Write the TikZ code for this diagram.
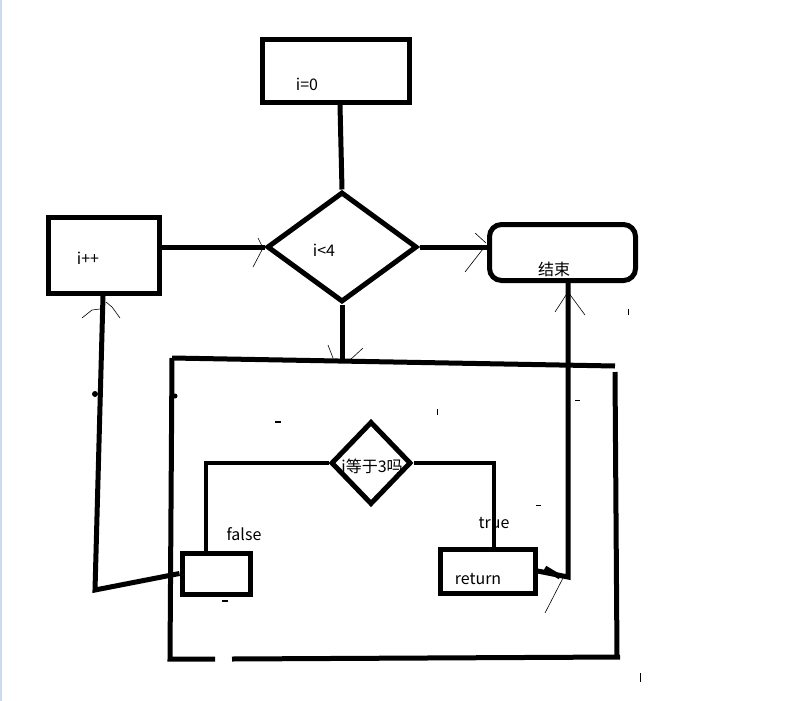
\documentclass[tikz,border=0pt]{standalone}
\usepackage{fontspec}
\usetikzlibrary{shapes.geometric}
\newfontfamily\cjk{Noto Sans CJK SC}
\definecolor{edge}{RGB}{205,218,236}

\begin{document}
\begin{tikzpicture}[x=1pt,y=-1pt,
  box/.style={draw,line width=5pt,inner sep=0pt},
  cond/.style={draw,line width=5pt,diamond,inner sep=0pt},
  wire/.style={line width=5pt},
  thinwire/.style={line width=4pt},
  tip/.style={line width=0.6pt},
  txt/.style={font=\cjk\fontsize{16}{18}\selectfont,inner sep=0pt}]
\useasboundingbox (0,0) rectangle (800,701);
\draw[edge,line width=2pt] (1,0) -- (1,701);
% outer loop
\node[box,minimum width=147,minimum height=63] (init) at (336,71) {};
\node[txt] (initlbl) at (307,84) {i=0};
\node[cond,minimum width=150,minimum height=110] (test) at (342,247) {};
\node[txt] (testlbl) at (324,250) {i<4};
\node[box,minimum width=111,minimum height=76] (incr) at (104,255.5) {};
\node[txt] (incrlbl) at (88,258) {i++};
\node[box,rounded corners=12pt,minimum width=146,minimum height=56] (stop) at (562.5,252.5) {};
\node[txt] (stoplbl) at (554,269) {结束};
\draw[wire] ([xshift=4pt]init.south) -- (test.north);
\draw[wire] (test.west -| incr.east) -- (test.west);
\draw[wire] (test.east) -- (test.east -| stop.west);
\coordinate (bodytop) at (342,362);
\draw[wire] (test.south) -- (bodytop);
% loop body
\draw[wire] (172,358) -- (615,366);
\draw[wire] (615,372) -- (617,657);
\draw[wire] (620,657) -- (232,659);
\draw[wire] (215,659) -- (170,659) -- (172,358);
\node[cond,minimum width=80,minimum height=83] (check) at (371,463) {};
\node[txt] (checklbl) at (372,466) {i等于3吗};
\node[box,minimum width=68,minimum height=41] (skip) at (216,573.5) {};
\node[box,minimum width=95,minimum height=44] (ret) at (487.5,571) {};
\node[txt] (retlbl) at (478,579) {return};
\node[txt] (falselbl) at (244,534) {false};
\node[txt] (truelbl) at (494,523) {true};
\draw[thinwire] (check.west) -| ([xshift=-10pt]skip.north);
\draw[thinwire] (check.east) -| ([xshift=6.5pt]ret.north);
\coordinate (backbend) at (95,590);
\draw[wire] (skip.west) -- (backbend) -- ([xshift=-1pt]incr.south);
\coordinate (exitbend) at (568,577);
\draw[wire] (ret.east) -- (exitbend) -- ([xshift=5.5pt]stop.south);
% hand drawn tips
\draw[tip] (258,238) -- (263,248) -- (253,267);
\draw[tip] (475,233) -- (486,243);
\draw[tip] (486,245) -- (465,272);
\draw[tip] (328,345) -- (333,358);
\draw[tip] (350,360) -- (363,348);
\draw[tip] (82,318) -- (92,310) -- (100,309);
\draw[tip] (106,302) -- (112,307) -- (120,318);
\draw[tip] (555,312) -- (568,292) -- (585,315);
\draw[tip] (563,578) -- (545,613);
\draw[wire] (545,568) -- (560,577);
% stray marks
\draw[line width=1.5pt] (275,422) -- (281,422);
\draw[line width=1pt] (437,409) -- (437,415);
\draw[line width=1pt] (575,400) -- (580,400);
\draw[line width=1pt] (536,505) -- (541,505);
\draw[line width=1pt] (628,309) -- (628,315);
\draw[line width=1pt] (640,673) -- (640,682);
\draw[line width=1.5pt] (222,601) -- (228,601);
\fill (95,394) circle (3pt);
\fill (175,396) circle (2.5pt);
\end{tikzpicture}
\end{document}
